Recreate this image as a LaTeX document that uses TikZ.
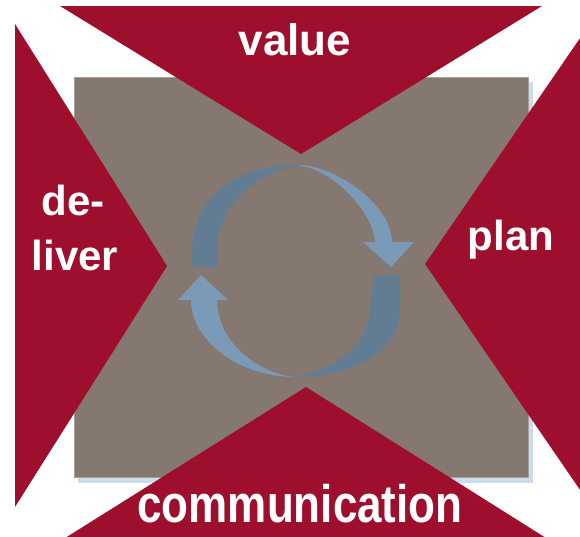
\documentclass[tikz,border=0pt]{standalone}
\usepackage{fontspec}
\usepackage{graphicx}
\setmainfont{Liberation Sans}
\definecolor{wine}{HTML}{9E0F2E}
\definecolor{taupe}{HTML}{857870}
\definecolor{taupeedge}{HTML}{A89E98}
\definecolor{shadowblue}{HTML}{C9DDF0}
\definecolor{ringlight}{HTML}{7A9AB8}
\definecolor{ringdark}{HTML}{627C94}
\tikzset{
    word/.style={text=white, inner sep=0pt, anchor=base, font=\fontsize{44}{52}\selectfont\bfseries},
    smallword/.style={word, font=\fontsize{42}{50}\selectfont\bfseries},
    wedge/.style={fill=wine, draw=none}
}
\def\Ring{
    % upper arc
    \fill[ringdark] (192,267) -- (192,255) .. controls (192,199) and (232,165) .. (298,165)
        -- (302,166) .. controls (260,168) and (217,205) .. (217,250) -- (217,267) -- cycle;
    \fill[ringlight] (298,165) .. controls (335,165) and (392,205) .. (392,242)
        -- (375,242) .. controls (373,212) and (335,172) .. (302,166) -- cycle;
    \fill[ringlight] (363,242) -- (414,242) -- (391,267) -- cycle;
    % lower arc
    \fill[ringdark] (400,275) -- (400,310) .. controls (400,350) and (355,377) .. (296,377)
        -- (293,377) .. controls (340,370) and (370,340) .. (370,307) -- (374,275) -- cycle;
    \fill[ringlight] (296,377) .. controls (238,377) and (191,340) .. (191,300)
        -- (217,300) .. controls (217,340) and (255,372) .. (293,377) -- cycle;
    \fill[ringlight] (178,300) -- (228,300) -- (201,275) -- cycle;
}
\begin{document}
\begin{tikzpicture}[x=1pt, y=-1pt]
    \useasboundingbox (0,0) rectangle (580,536);
    \clip (0,0) rectangle (580,536);
    \fill[shadowblue] (78,82) rectangle (533,483);
    \filldraw[fill=taupe, draw=taupeedge, line width=1pt] (74,77) rectangle (528,477);

    \fill[wedge] (60,6) -- (542,6) -- (301,154) -- cycle;
    \fill[wedge] (15,24) -- (15,507) -- (167,266) -- cycle;
    \fill[wedge] (425,264) -- (600,9) -- (600,519) -- cycle;
    \fill[wedge] (306,387) -- (30,560) -- (581,560) -- cycle;

    \Ring

    \node[word] (value) at (295,55) {value};
    \node[smallword] (plan) at (511,250) {plan};
    \node[smallword] (de) at (73,215) {de-};
    \node[smallword] (liver) at (75,270) {liver};
    \node[word] (communication) at (300,522) {\scalebox{1}[1.2]{communication}};
    % \draw[red] (74,77) rectangle (528,477);
\end{tikzpicture}
\end{document}
